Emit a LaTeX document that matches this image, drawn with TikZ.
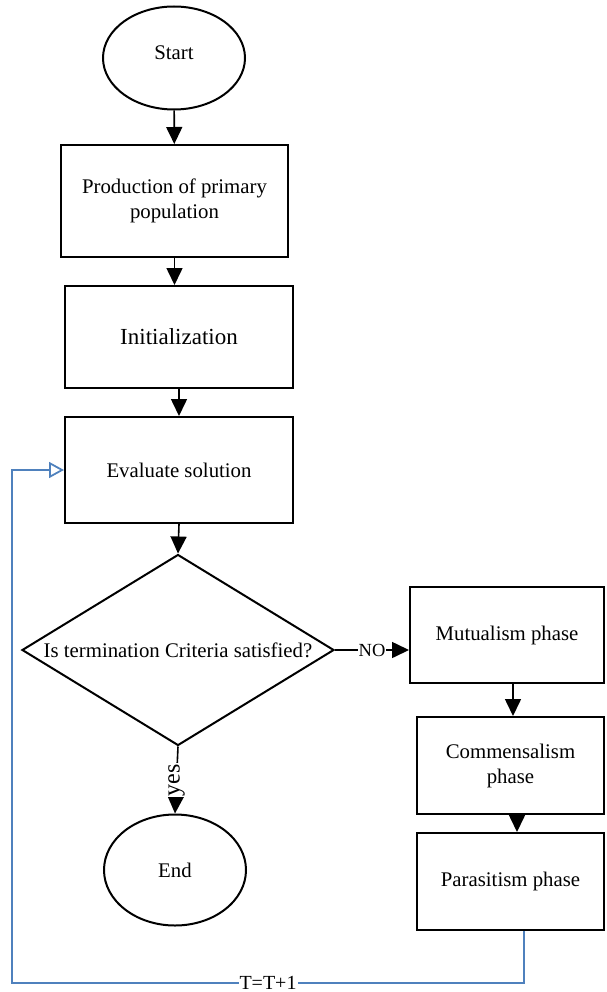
\documentclass[tikz,border=0pt]{standalone}
\usepackage{fontspec}
\setmainfont{Liberation Serif}
\usetikzlibrary{shapes.geometric,arrows.meta}
\definecolor{loopblue}{RGB}{79,129,189}
\begin{document}
\begin{tikzpicture}[x=1pt,y=1pt,line width=2pt,
  font=\fontsize{20.8pt}{25pt}\selectfont,
  term/.style={draw,ellipse,inner sep=0pt,minimum width=142pt},
  box/.style={draw,rectangle,align=center,inner sep=0pt},
  decision/.style={draw,diamond,inner sep=0pt,minimum width=312pt,minimum height=191pt},
  flow/.style={line width=1.6pt,-{Triangle[length=17pt,width=16pt]}},
  loopline/.style={draw=loopblue,line width=1.8pt,-{Triangle[open,length=15pt,width=16pt]}},
  tag/.style={fill=white,inner sep=1pt}]
\useasboundingbox (0,0) rectangle (606,-992);
% left column
\node[term,minimum height=103pt] (start) at (174,-58) {\raisebox{10pt}{Start}};
\node[box,minimum width=227pt,minimum height=112pt] (prod) at (174.5,-201) {Production of primary\\population};
\node[box,minimum width=228pt,minimum height=102pt,font=\fontsize{23pt}{27pt}\selectfont] (init) at (179,-337) {Initialization};
\node[box,minimum width=228pt,minimum height=106pt] (eval) at (179,-470) {Evaluate solution};
\node[decision] (crit) at (178,-650) {\makebox[0pt]{Is termination Criteria satisfied?}};
\node[term,minimum height=111pt] (end) at (175,-870) {End};
% right column
\node[box,minimum width=194pt,minimum height=96pt] (mutual) at (507,-635) {Mutualism phase};
\node[box,minimum width=187pt,minimum height=97pt] (commens) at (510.5,-765.5) {Commensalism\\phase};
\node[box,minimum width=187pt,minimum height=97pt] (parasit) at (510.5,-881.5) {Parasitism phase};
\coordinate (turn) at (12,-983);
% connectors
\draw[flow] (start) -- (prod);
\draw[flow] (prod.south) -- (prod.south |- init.north);
\draw[flow] (init.south) -- (eval.north);
\draw[flow] (eval.south) -- (crit.north);
\draw[flow] (crit.east) -- (crit.east -| mutual.west)
  node[tag,midway,font=\fontsize{18.5pt}{22pt}\selectfont] {NO};
\draw[flow] (crit.south) -- (end.north)
  node[tag,midway,rotate=90,font=\fontsize{24pt}{28pt}\selectfont] {yes};
\draw[flow] ([xshift=2.5pt]mutual.south -| commens.north) -- ([xshift=2.5pt]commens.north);
\draw[flow] ([xshift=6.5pt]commens.south) -- ([xshift=6.5pt]parasit.north);
\draw[loopline] ([xshift=13.5pt]parasit.south) |- node[tag,pos=0.75,font=\fontsize{20pt}{24pt}\selectfont] {T=T+1} (turn)
  |- (eval.west);
\end{tikzpicture}
\end{document}
